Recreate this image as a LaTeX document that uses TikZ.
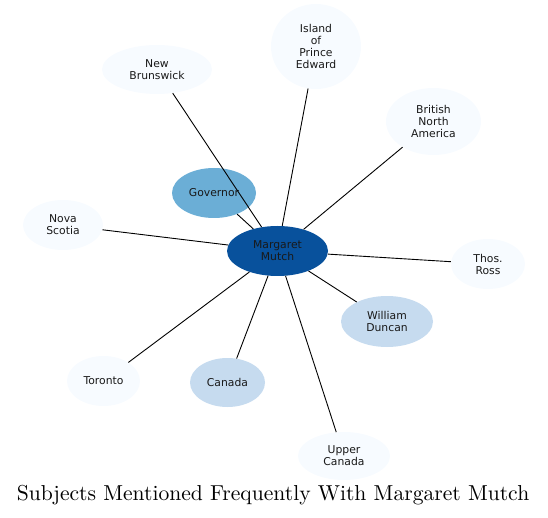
\documentclass[tikz,border=0pt]{standalone}
\usepackage{fontspec}
\usetikzlibrary{shapes.geometric}
\newfontfamily\nodefont{DejaVu Sans}
\newfontfamily\titlefont{lmroman10-regular.otf}
\definecolor{cdark}{HTML}{08519C}
\definecolor{cmid}{HTML}{6BAED6}
\definecolor{clight}{HTML}{C6DBEF}
\definecolor{cpale}{HTML}{F7FBFF}
\tikzset{
  ent/.style={ellipse, inner sep=0pt, align=center, font=\nodefont\fontsize{10.8}{12}\selectfont, text=black!90},
  pale/.style={ent, fill=cpale},
  light/.style={ent, fill=clight},
  mid/.style={ent, fill=cmid},
  dark/.style={ent, fill=cdark},
  link/.style={draw=black, line width=0.9pt},
}
\begin{document}
\begin{tikzpicture}[x=1pt,y=1pt]
\useasboundingbox (0,0) rectangle (548,517);
\node[dark, minimum width=101pt, minimum height=50pt] (m) at (277.5,266) {Margaret\\Mutch};
\node[mid, minimum width=84pt, minimum height=50pt] (gov) at (214,324) {Governor};
\node[pale, minimum width=110pt, minimum height=49pt] (nb) at (157,447.5) {New\\Brunswick};
\node[pale, minimum width=90pt, minimum height=85pt] (ipe) at (316,470.5) {Island\\of\\Prince\\Edward};
\node[pale, minimum width=95pt, minimum height=67pt] (bna) at (433.5,395.5) {British\\North\\America};
\node[pale, minimum width=80pt, minimum height=50pt] (ns) at (63,292) {Nova\\Scotia};
\node[pale, minimum width=74pt, minimum height=50pt] (tr) at (488,253) {Thos.\\Ross};
\node[light, minimum width=92pt, minimum height=51pt] (wd) at (387,195.5) {William\\Duncan};
\node[pale, minimum width=73pt, minimum height=50pt] (tor) at (103.5,136) {Toronto};
\node[light, minimum width=75pt, minimum height=49pt] (can) at (227.5,134.5) {Canada};
\node[pale, minimum width=92pt, minimum height=48pt] (uc) at (344,61) {Upper\\Canada};
\foreach \t in {gov,nb,ipe,bna,ns,tr,wd,tor,can,uc}
  \draw[link] (m) -- (\t);
\node[font=\titlefont\fontsize{21.6}{26}\selectfont, anchor=base, inner sep=0pt] (title) at (273,16.5) {Subjects Mentioned Frequently With Margaret Mutch};
\end{tikzpicture}
\end{document}
